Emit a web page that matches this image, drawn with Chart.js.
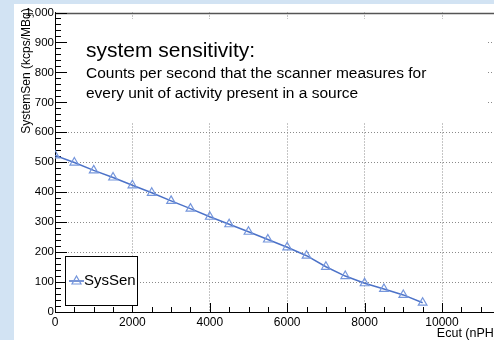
<!DOCTYPE html>
<html>
<head>
<meta charset="utf-8">
<script src="https://cdn.jsdelivr.net/npm/chart.js@4.4.1/dist/chart.umd.min.js"></script>
<style>
  html, body { margin: 0; padding: 0; width: 494px; height: 340px; overflow: hidden; background: #d2e3f3; }
  #paper { position: absolute; left: 14px; top: 4px; width: 500px; height: 340px; background: #fff; }
  #c { position: absolute; left: 0; top: 0; }
</style>
</head>
<body>
<div id="paper"></div>
<canvas id="c" width="530" height="340"></canvas>
<script>
// data
var ecut = [0, 500, 1000, 1500, 2000, 2500, 3000, 3500, 4000, 4500,
            5000, 5500, 6000, 6500, 7000, 7500, 8000, 8500, 9000, 9500];
var sysSen = [523, 499, 473, 449, 423, 398, 371, 345, 318, 293,
              268, 242, 216, 188, 151, 120, 96, 77, 57, 31];
var xTickLabels = [0, 2000, 4000, 6000, 8000, 10000];

var titleText = "system sensitivity:";
var noteLines = ["Counts per second that the scanner measures for",
                 "every unit of activity present in a source"];
var seriesName = "SysSen";
var yTitle = "SystemSen (kcps/MBq)";
var xTitle = "Ecut (nPH)";

var lineColor = "#4c72c8";
var markColor = "#7596dc";

var points = [];
for (var i = 0; i < ecut.length; i++) {
	points.push({ x: ecut[i], y: sysSen[i] });
}

function gridColor(ctx) {
	var v = ctx.tick ? ctx.tick.value : 0;
	if (ctx.scale.axis == 'x') {
		return (v == 0 || v > 10000) ? 'rgba(0,0,0,0)' : '#8a8a8a';
	}
	return (v == 0 || v == 1000) ? 'rgba(0,0,0,0)' : '#8a8a8a';
}

// ticks inside the frame, text box, legend box, axis titles
var decor = {
	id: 'decor',
	beforeDatasetsDraw: function(chart) {
		var c = chart.ctx, a = chart.chartArea;
		var xs = chart.scales.x, ys = chart.scales.y;
		c.save();
		// top frame
		c.strokeStyle = '#555';
		c.lineWidth = 1.5;
		c.beginPath();
		c.moveTo(a.left, Math.round(a.top) + 0.5);
		c.lineTo(a.right, Math.round(a.top) + 0.5);
		c.stroke();

		c.strokeStyle = '#000';
		c.lineWidth = 1;
		c.beginPath();
		for (var v = 0; v <= 1000; v += 20) {
			var y = Math.round(ys.getPixelForValue(v)) + 0.5;
			var len = (v % 100 == 0) ? 12 : 6;
			c.moveTo(a.left, y);
			c.lineTo(a.left + len, y);
		}
		for (var u = 0; u <= 12000; u += 500) {
			var x = Math.round(xs.getPixelForValue(u)) + 0.5;
			var l2 = (u % 2000 == 0) ? 9 : 5;
			c.moveTo(x, a.bottom);
			c.lineTo(x, a.bottom - l2);
		}
		c.stroke();

		// text box covering the grid
		c.fillStyle = '#fff';
		c.fillRect(67, 19, 420, 103);
		c.fillStyle = '#000';
		c.textBaseline = 'alphabetic';
		c.textAlign = 'left';
		c.font = '21px "Liberation Sans", Arial, sans-serif';
		c.fillText(titleText, 86, 57);
		c.font = '15.5px "Liberation Sans", Arial, sans-serif';
		c.fillText(noteLines[0], 86, 78);
		c.fillText(noteLines[1], 86, 98);
		c.restore();
	},
	afterDatasetsDraw: function(chart) {
		var c = chart.ctx, a = chart.chartArea;
		c.save();
		// legend box
		c.fillStyle = '#fff';
		c.fillRect(65.5, 256.5, 72, 49);
		c.strokeStyle = '#000';
		c.lineWidth = 1;
		c.strokeRect(65.5, 256.5, 72, 49);
		c.strokeStyle = lineColor;
		c.lineWidth = 1.5;
		c.beginPath();
		c.moveTo(69, 281);
		c.lineTo(84, 281);
		c.stroke();
		c.strokeStyle = markColor;
		c.lineWidth = 1.2;
		c.beginPath();
		c.moveTo(76.5, 276);
		c.lineTo(81, 284);
		c.lineTo(72, 284);
		c.closePath();
		c.stroke();
		c.fillStyle = '#000';
		c.font = '15px "Liberation Sans", Arial, sans-serif';
		c.textBaseline = 'middle';
		c.fillText(seriesName, 84, 281);

		// x title
		c.font = '12.5px "Liberation Sans", Arial, sans-serif';
		c.textAlign = 'right';
		c.textBaseline = 'alphabetic';
		c.fillText(xTitle, 498, 337);

		// y title
		c.translate(27, 71);
		c.rotate(-Math.PI / 2);
		c.textAlign = 'center';
		c.textBaseline = 'middle';
		c.font = '12px "Liberation Sans", Arial, sans-serif';
		c.fillText(yTitle, 0, 0);
		c.restore();
	}
};

var chart1 = new Chart(document.getElementById('c'), {
	type: 'line',
	data: {
		datasets: [{
			label: seriesName,
			data: points,
			borderColor: lineColor,
			borderWidth: 1.5,
			pointStyle: 'triangle',
			pointRadius: 5,
			pointBorderColor: markColor,
			pointBackgroundColor: 'rgba(0,0,0,0)',
			pointBorderWidth: 1.2,
			tension: 0
		}]
	},
	options: {
		responsive: false,
		animation: false,
		devicePixelRatio: 1,
		layout: { padding: { left: 14, top: 12.5, right: 10.6, bottom: 0 } },
		plugins: { legend: { display: false }, tooltip: { enabled: false } },
		scales: {
			x: {
				type: 'linear',
				min: 0,
				max: 12000,
				afterFit: function(s) { s.height = 28; },
				afterBuildTicks: function(s) {
					s.ticks = [];
					for (var v = 0; v <= 12000; v += 2000) s.ticks.push({ value: v });
				},
				ticks: {
					color: '#000',
					padding: 3,
					maxRotation: 0,
					font: { family: '"Liberation Sans", Arial, sans-serif', size: 12 },
					callback: function(v) { return xTickLabels.indexOf(v) >= 0 ? String(v) : ''; }
				},
				grid: { drawTicks: false, color: gridColor, lineWidth: 1 },
				border: { color: '#000', width: 1, dash: [1, 2] }
			},
			y: {
				min: 0,
				max: 1000,
				afterFit: function(s) { s.width = 41; },
				ticks: {
					stepSize: 100,
					color: '#000',
					padding: 1,
					font: { family: '"Liberation Sans Narrow", "Liberation Sans", Arial, sans-serif', size: 11.5 }
				},
				grid: { drawTicks: false, color: gridColor, lineWidth: 1 },
				border: { color: '#000', width: 1, dash: [1, 2] }
			}
		}
	},
	plugins: [decor]
});
</script>
</body>
</html>
